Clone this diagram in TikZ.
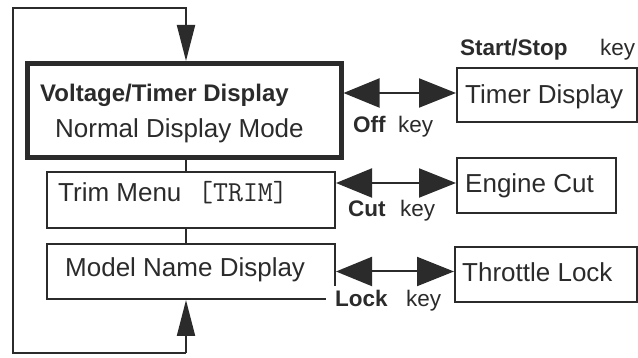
\documentclass[tikz,border=0pt]{standalone}
\usepackage{fontspec}
\setmainfont{Liberation Sans}
\usetikzlibrary{arrows.meta}
\definecolor{ink}{HTML}{2B2B2B}
\tikzset{
  box/.style={draw=ink, line width=2pt, rectangle, inner sep=0pt},
  mainbox/.style={box, line width=5pt},
  wire/.style={draw=ink, line width=2pt},
  uparrow/.style={-{Triangle[length=36pt,width=18pt]}},
  bothways/.style={{Triangle[length=36pt,width=29pt]}-{Triangle[length=37pt,width=29pt]}},
  txt/.style={anchor=base west, inner sep=0pt, text=ink, font=\fontsize{26}{30}\selectfont},
  titletxt/.style={txt, font=\fontsize{24}{28}\selectfont\bfseries},
  keytxt/.style={txt, font=\fontsize{22.5}{26}\selectfont},
  keybold/.style={keytxt, font=\fontsize{22.5}{26}\selectfont\bfseries},
}
\begin{document}
\begin{tikzpicture}[x=1pt, y=-1pt]
\useasboundingbox (0,0) rectangle (638,358);

% boxes of the menu chain
\node[mainbox, minimum width=313.5pt, minimum height=94pt] (main) at (184.25,110.5) {};
\node[box, minimum width=288pt, minimum height=56pt] (trim) at (191,200) {};
\node[box, minimum width=288pt, minimum height=55pt] (model) at (191,271.5) {};

% boxes reached by the keys
\node[box, minimum width=180pt, minimum height=54pt] (timer) at (547,95) {};
\node[box, minimum width=159pt, minimum height=55pt] (engine) at (536.5,185.5) {};
\node[box, minimum width=182pt, minimum height=55pt] (throttle) at (546,274.5) {};

% texts inside the boxes
\node[titletxt] (vtitle) at (40,102) {Voltage/Timer Display};
\node[txt] (normal) at (55,138) {Normal Display Mode};
\node[txt] (trimtxt) at (58,202) {Trim Menu};
\node[txt, font=\fontsize{29}{32}\selectfont\ttfamily] (trimcode) at (198,202) {[TRIM]};
\node[txt] (modeltxt) at (65,277) {Model Name Display};
\node[txt] (timertxt) at (465,104) {Timer Display};
\node[txt] (enginetxt) at (465,193) {Engine Cut};
\node[txt] (throttletxt) at (462,282) {Throttle Lock};

% spine and loop of the chain
\coordinate (spine) at (186,0);
\coordinate (cTop) at (13,8);
\coordinate (cBot) at (13,353);
\draw[wire] (spine |- main.south) -- (spine |- trim.north);
\draw[wire] (spine |- trim.south) -- (spine |- model.north);
\draw[wire, uparrow] (cBot -| spine) -- (spine |- model.south);
\draw[wire, uparrow] (cBot -| spine) -- (cBot) -- (cTop) -- (cTop -| spine) -- (spine |- main.north);

% key labels
\node[keybold] (startstop) at (460,56) {Start/Stop};
\node[keytxt] (k1) at (600,56) {key};
\node[keybold] (off) at (353,133) {Off};
\node[keytxt] (k2) at (398,133) {key};
\node[keybold] (cut) at (348,217) {Cut};
\node[keytxt] (k3) at (400,217) {key};
\node[keybold, fill=white, inner xsep=9pt, inner ysep=4.5pt] (lock) at (326,307) {Lock};
\node[keytxt] (k4) at (406,307) {key};

% two-way key arrows
\coordinate (r1) at ([yshift=2pt]timer.west);
\coordinate (r2) at ([yshift=2.5pt]engine.west);
\coordinate (r3) at (model.east);
\draw[wire, bothways] (r1 -| main.east) -- (r1);
\draw[wire, bothways] (r2 -| trim.east) -- (r2);
\draw[wire, bothways] (r3) -- (r3 -| throttle.west);
\end{tikzpicture}
\end{document}
